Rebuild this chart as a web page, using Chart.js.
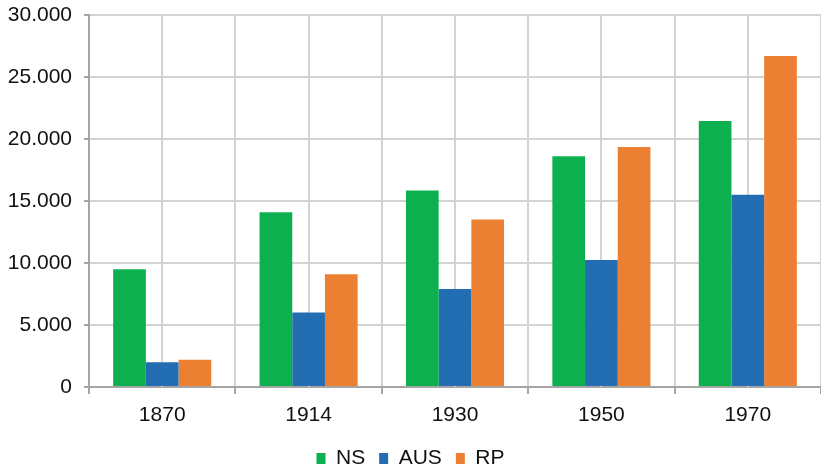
<!DOCTYPE html>
<html>
<head>
<meta charset="utf-8">
<script src="https://cdn.jsdelivr.net/npm/chart.js@4"></script>
<style>
  body { margin: 0; background: #fff; }
  #wrap { width: 821px; height: 470px; position: relative; }
</style>
</head>
<body>
<div id="wrap"><canvas id="myChart"></canvas></div>
<script>
// data
const years = ['1870', '1914', '1930', '1950', '1970'];
const nsValues = [9500, 14100, 15850, 18600, 21450];
const ausValues = [2000, 6000, 7900, 10250, 15500];
const rpValues = [2200, 9100, 13500, 19350, 26700];
const yTicks = [0, 5000, 10000, 15000, 20000, 25000, 30000];

const gridColor = '#d3d3d3';
const axisColor = '#a5a5a5';

// 30000 -> '30.000'
function formatNum(v) {
  return String(v).replace(/\B(?=(\d{3})+(?!\d))/g, '.');
}

// extra vertical lines in the middle of each category
const centerLines = {
  id: 'centerLines',
  beforeDatasetsDraw(chart) {
    const x = chart.scales.x;
    const area = chart.chartArea;
    const c = chart.ctx;
    c.save();
    c.strokeStyle = gridColor;
    c.lineWidth = 2;
    for (let i = 0; i < years.length; i++) {
      const px = Math.round(x.getPixelForValue(i));
      c.beginPath();
      c.moveTo(px, area.top);
      c.lineTo(px, area.bottom);
      c.stroke();
    }
    c.restore();
  }
};

Chart.defaults.font.family = '"Liberation Sans", Arial, sans-serif';
Chart.defaults.color = '#111';

const ctx = document.getElementById('myChart').getContext('2d');
const chart = new Chart(ctx, {
  type: 'bar',
  data: {
    labels: years,
    datasets: [
      { label: 'NS', data: nsValues, backgroundColor: '#0db04f' },
      { label: 'AUS', data: ausValues, backgroundColor: '#236db2' },
      { label: 'RP', data: rpValues, backgroundColor: '#ec8032' }
    ]
  },
  options: {
    responsive: true,
    maintainAspectRatio: false,
    animation: false,
    layout: { padding: { top: 15, right: 0, left: 0, bottom: -9 } },
    datasets: {
      bar: { categoryPercentage: 0.67, barPercentage: 1.0, borderWidth: 0 }
    },
    plugins: {
      tooltip: { enabled: false },
      legend: {
        position: 'bottom',
        labels: {
          boxWidth: 9,
          boxHeight: 11,
          padding: 14,
          font: { size: 21 }
        }
      }
    },
    scales: {
      x: {
        grid: { color: gridColor, lineWidth: 2, tickLength: 7, tickColor: axisColor, offset: true },
        border: { color: axisColor, width: 2 },
        ticks: { font: { size: 21 }, padding: 9 },
        afterFit(scale) { scale.height = 47; }
      },
      y: {
        min: 0,
        max: 30000,
        afterBuildTicks(scale) { scale.ticks = yTicks.map(v => ({ value: v })); },
        grid: { color: gridColor, lineWidth: 2, tickLength: 5, tickColor: axisColor },
        border: { color: axisColor, width: 2 },
        ticks: { font: { size: 21 }, padding: 12, callback: v => formatNum(v) },
        afterFit(scale) {
          scale.width = 89;
          scale.paddingTop = 0;
          scale.paddingBottom = 0;
        }
      }
    }
  },
  plugins: [centerLines]
});
</script>
</body>
</html>
